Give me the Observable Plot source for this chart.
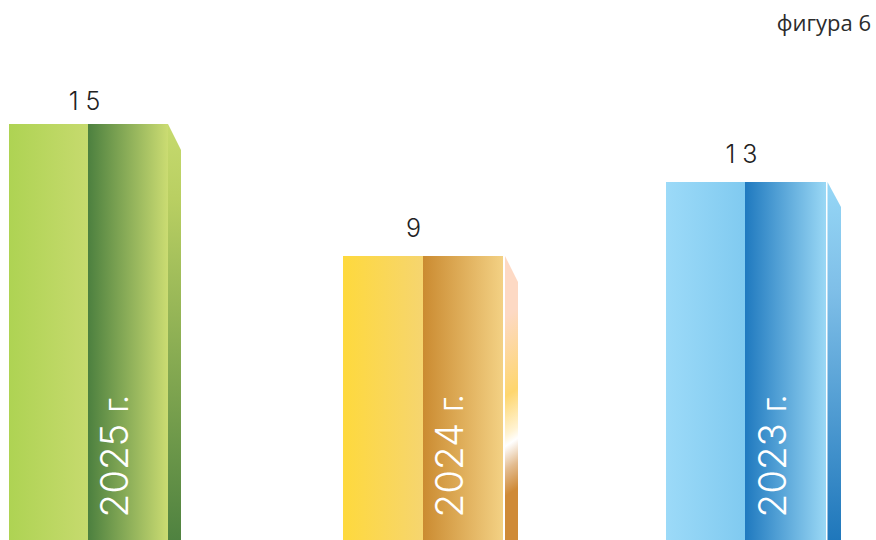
<!DOCTYPE html>
<html><head><meta charset="utf-8">
<script src="https://cdn.jsdelivr.net/npm/d3@7"></script>
<script src="https://cdn.jsdelivr.net/npm/@observablehq/plot@0.6"></script>
<style>
html,body{margin:0;padding:0;background:#fff;overflow:hidden}
#wrap{position:relative;width:876px;height:540px}
#cap{position:absolute;right:5px;top:7px;font:22px "Open Sans",sans-serif;color:#2b2b2b}
svg{display:block}
</style></head><body>
<div id="wrap"><div id="cap">фигура 6</div></div>
<script>
const years = ["2025 г.", "2024 г.", "2023 г."];
const values = [15, 9, 13];
const valueLabels = ["1 5", "9", "1 3"];
const shoulders = [14.1, 8.18, 11.65];
const keys = ["green", "yellow", "blue"];

// layout, in x-scale units
const edges = [[9, 88, 168, 181], [343, 423, 503, 518], [666, 745, 826, 841]];
const sideStart = [168, 505, 827.5];
const valueX = [84, 413, 741];
const valueDy = [-23, -28, -28];
const yearX = [115, 450, 773];

const palettes = {
  green:  {front: ["#aed353", "#c6da6e"], mid: ["#4c803f", "#cbdc72"],
           side: [[0, "#c6da6e"], [.18, "#b9cf62"], [1, "#4f8240"]]},
  yellow: {front: ["#fed93d", "#f6d56f"], mid: ["#cb8b31", "#f3d184"],
           side: [[0, "#fdd9c4"], [.12, "#fdd9c4"], [.43, "#fed66e"], [.58, "#fff3d2"], [.624, "#ffffff"], [.717, "#e3bc90"], [.818, "#cf8a37"], [1, "#cf8a37"]],
           // the streak on this side runs diagonally
           vector: {gradientUnits: "userSpaceOnUse", x1: 511, y1: 282, x2: 630, y2: 459.6}},
  blue:   {front: ["#9cdaf8", "#80caf0"], mid: ["#1f79bf", "#9ad8f5"],
           side: [[0, "#96d7f6"], [.3, "#7fbfe8"], [1, "#1f77bb"]]}
};

function defs() {
  const d = d3.create("svg:defs");
  for (const k of keys) {
    const p = palettes[k];
    for (const part of ["front", "mid"]) {
      const g = d.append("linearGradient").attr("id", `${k}-${part}`);
      g.append("stop").attr("offset", 0).attr("stop-color", p[part][0]);
      g.append("stop").attr("offset", 1).attr("stop-color", p[part][1]);
    }
    const s = d.append("linearGradient").attr("id", `${k}-side`);
    const v = p.vector || {x1: 0, x2: 0, y1: 0, y2: 1};
    for (const a in v) s.attr(a, v[a]);
    for (const [o, c] of p.side) s.append("stop").attr("offset", o).attr("stop-color", c);
  }
  return d.node();
}

const marks = [defs];
years.forEach((year, i) => {
  const [a, b, c, e] = edges[i], k = keys[i], v = values[i];
  marks.push(
    Plot.rect([v], {x1: a, x2: b, y1: 0, y2: d => d, fill: `url(#${k}-front)`}),
    Plot.rect([v], {x1: b, x2: c, y1: 0, y2: d => d, fill: `url(#${k}-mid)`}),
    Plot.area([[sideStart[i], v], [e, shoulders[i]]], {
      x1: d => d[0], y1: () => 0, y2: d => d[1], fill: `url(#${k}-side)`
    }),
    Plot.text([v], {
      x: valueX[i], y: d => d, text: () => valueLabels[i], dy: valueDy[i],
      fontSize: 25, fontWeight: 300, fontFamily: "Inter, sans-serif", fill: "#222"
    }),
    Plot.text([0], {
      x: yearX[i], y: d => d, text: () => year, rotate: -90, dy: -23,
      textAnchor: "start", fontSize: 38.5, fontWeight: 300,
      fontFamily: "Inter, sans-serif", fill: "#fff"
    })
  );
});

// The reference's bar heights are not proportional to their values, so the
// y scale passes through a piecewise transform.
const yTransform = d3.scaleLinear([0, 9, 13, 15], [0, 284, 358, 416]);
const chart = Plot.plot({
  width: 876, height: 540,
  marginTop: 0, marginRight: 0, marginBottom: 0, marginLeft: 0,
  x: {axis: null, domain: [0, 876], range: [0, 876]},
  y: {axis: null, transform: yTransform, domain: [0, 540], range: [540, 0]},
  style: {background: "#fff"},
  marks
});
// tighten the "г." suffix, which is set narrower in the reference
d3.select(chart).selectAll("text").filter(function () { return / г\.$/.test(this.textContent); })
  .each(function () {
    const [num, suffix] = this.textContent.split(" ");
    const t = d3.select(this).text(num + " ");
    t.append("tspan").attr("letter-spacing", -4).attr("font-size", 34).text(suffix);
  });
document.getElementById("wrap").prepend(chart);
</script>
</body></html>
